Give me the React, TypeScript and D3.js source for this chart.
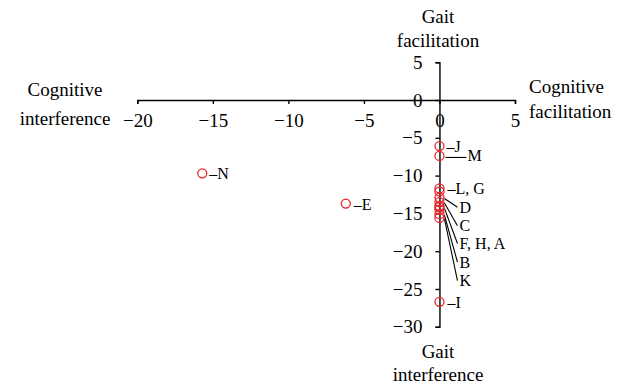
import React, { useEffect, useRef } from 'react';
import * as d3 from 'd3';

// participants and their dual-task effects (%)
const names = ['A', 'B', 'C', 'D', 'E', 'F', 'G', 'H', 'I', 'J', 'K', 'L', 'M', 'N'];
const cognitiveEffect = [0, 0, 0, 0, -6.2, 0, 0, 0, 0, 0, 0, 0, 0, -15.7];
const gaitEffect = [-14.5, -15.1, -13.5, -12.9, -13.7, -14.0, -12.1, -14.2, -26.7, -6.1, -15.6, -11.7, -7.4, -9.7];

const xTicks = [-20, -15, -10, -5, 0, 5];
const yTicks = [5, 0, -5, -10, -15, -20, -25, -30];

// callout text, the point it belongs to
const calloutText = ['–N', '–E', '–J', 'M', '–L, G', 'D', 'C', 'F, H, A', 'B', 'K', '–I'];
const calloutPoint = ['N', 'E', 'J', 'M', 'L', 'D', 'C', 'H', 'B', 'K', 'I'];

// where each callout sits relative to its point (px), and if it has a leader line
const calloutLayout = [
  { dx: 7, dy: 6, leader: 'none' },
  { dx: 8, dy: 6, leader: 'none' },
  { dx: 7, dy: 6, leader: 'none' },
  { dx: 28, dy: 5.5, leader: 'flat' },
  { dx: 8, dy: 6, leader: 'none' },
  { dx: 20, dy: 15.3, leader: 'slant' },
  { dx: 20, dy: 29.2, leader: 'slant' },
  { dx: 20, dy: 41.7, leader: 'slant' },
  { dx: 20, dy: 53.4, leader: 'slant' },
  { dx: 20, dy: 68.1, leader: 'slant' },
  { dx: 8, dy: 6, leader: 'none' },
];

const font = "Liberation Serif, serif";
const fontSize = 19;
const calloutSize = 16;

export default function App() {
  const ref = useRef<SVGSVGElement>(null);

  useEffect(() => {
    const svg = d3.select(ref.current);
    svg.selectAll('*').remove();

    var x = d3.scaleLinear().domain([-20, 5]).range([137.3, 515]);
    var y = d3.scaleLinear().domain([5, -30]).range([62.2, 326.8]);

    /* axes cross at the origin */
    const xAxis = svg.append('g')
      .attr('transform', `translate(0, ${y(0)})`)
      .call(d3.axisBottom(x).tickValues(xTicks).tickSize(4).tickPadding(10));

    const yAxis = svg.append('g')
      .attr('transform', `translate(${x(0)}, 0)`)
      .call(d3.axisLeft(y).tickValues(yTicks).tickSize(4).tickPadding(13));

    [xAxis, yAxis].forEach(g => {
      g.attr('font-family', null).attr('font-size', null)
        .style('font-family', font).style('font-size', fontSize + 'px');
      g.selectAll('path, line').attr('stroke', '#000').attr('stroke-width', 1.4);
      g.selectAll('text').attr('fill', '#000');
    });

    /* axis titles */
    const titles = [
      { t: 'Gait', x: 438, y: 23, a: 'middle' },
      { t: 'facilitation', x: 438, y: 47, a: 'middle' },
      { t: 'Gait', x: 438, y: 358, a: 'middle' },
      { t: 'interference', x: 438, y: 381, a: 'middle' },
      { t: 'Cognitive', x: 65, y: 96, a: 'middle' },
      { t: 'interference', x: 65, y: 125, a: 'middle' },
      { t: 'Cognitive', x: 529, y: 93, a: 'start' },
      { t: 'facilitation', x: 529, y: 118, a: 'start' },
    ];
    svg.append('g').selectAll('text')
      .data(titles).enter()
      .append('text')
      .attr('x', d => d.x)
      .attr('y', d => d.y)
      .attr('text-anchor', d => d.a)
      .style('font-family', font)
      .style('font-size', fontSize + 'px')
      .attr('fill', '#000')
      .text(d => d.t);

    /* callouts */
    const pos = (name: string) => {
      const i = names.indexOf(name);
      return [x(cognitiveEffect[i]), y(gaitEffect[i])];
    };
    const labels = svg.append('g');
    calloutText.forEach((t, i) => {
      const [px, py] = pos(calloutPoint[i]);
      const lay = calloutLayout[i];
      const lx = px + lay.dx;
      const ly = py + lay.dy;
      if (lay.leader === 'flat') {
        labels.append('line')
          .attr('x1', px + 6).attr('y1', py + 1.5)
          .attr('x2', lx - 1).attr('y2', py + 1.5)
          .attr('stroke', '#000').attr('stroke-width', 1.1);
      }
      if (lay.leader === 'slant') {
        labels.append('line')
          .attr('x1', px + 5).attr('y1', py + 1)
          .attr('x2', lx - 2).attr('y2', ly - 5.5)
          .attr('stroke', '#000').attr('stroke-width', 1.1);
      }
      labels.append('text')
        .attr('x', lx)
        .attr('y', ly)
        .style('font-family', font)
        .style('font-size', calloutSize + 'px')
        .attr('fill', '#000')
        .text(t);
    });

    /* points */
    svg.append('g').selectAll('circle')
      .data(names).enter()
      .append('circle')
      .attr('cx', (d, i) => x(cognitiveEffect[i]))
      .attr('cy', (d, i) => y(gaitEffect[i]))
      .attr('r', 4.5)
      .attr('fill', 'none')
      .attr('stroke', '#e8262b')
      .attr('stroke-width', 1.3);
  }, []);

  return (
    <svg
      ref={ref}
      width={632}
      height={387}
      style={{ position: 'absolute', left: 0, top: 0, background: '#fff' }}
    />
  );
}
